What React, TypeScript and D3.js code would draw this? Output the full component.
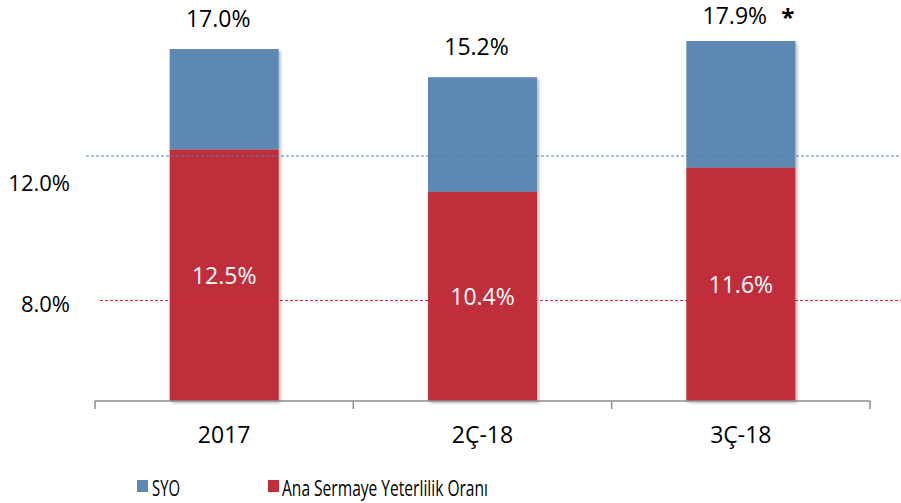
import React from "react";
import * as d3 from "d3";

// ---- data ----
const categories: string[] = ["2017", "2Ç-18", "3Ç-18"];
const anaSermaye: number[] = [12.5, 10.4, 11.6]; // red segment
const syoExtra: number[] = [5.0, 5.7, 6.3]; // blue segment (as drawn)
const totalLabels: string[] = ["17.0%", "15.2%", "17.9%"];
const innerLabels: string[] = ["12.5%", "10.4%", "11.6%"];
const starFlags: boolean[] = [false, false, true];
const refValues: number[] = [12, 8];
const refLabels: string[] = ["12.0%", "8.0%"];
const seriesNames: string[] = ["SYO", "Ana Sermaye Yeterlilik Oranı"];

const W = 901;
const H = 503;
const BLUE = "#5D88B3";
const RED = "#C12D3A";
const FONT = "'Open Sans', 'Noto Sans', sans-serif";

export default function App() {
  const x = d3
    .scaleBand<string>()
    .domain(categories)
    .range([95, 870])
    .paddingInner(0.578)
    .paddingOuter(0.289);
  const y = d3.scaleLinear().domain([0, 17.9]).range([401, 41]);
  // reference lines sit on their own (secondary) scale
  const yRef = d3.scaleLinear().domain([8, 12]).range([300.5, 156]);
  const yRefLabel = d3.scaleLinear().domain([8, 12]).range([303, 182]);

  const stacked = categories.map((c, i) => {
    const r0 = 0;
    const r1 = anaSermaye[i];
    const b1 = r1 + syoExtra[i];
    return { c, r0, r1, b1, i };
  });

  const bw = x.bandwidth();
  const tickXs = [95, ...categories.map((c) => (x(c) as number) + bw / 2 + x.step() / 2)];
  const topY = (v: number) => Math.max(y(v) - 31, 15);

  return (
    <div>
      <style>{`body{margin:0}`}</style>
      <svg width={W} height={H} style={{ display: "block", fontFamily: FONT }}>
        <defs>
          <filter id="shadow" x="-10%" y="-10%" width="130%" height="130%">
            <feDropShadow dx="2" dy="2" stdDeviation="1.8" floodColor="#000" floodOpacity="0.28" />
          </filter>
        </defs>
        <rect width={W} height={H} fill="#fff" />

        {/* bars */}
        {stacked.map((d) => (
          <g key={d.c} filter="url(#shadow)">
            <rect
              x={x(d.c)}
              y={y(d.b1)}
              width={bw}
              height={y(d.r1) - y(d.b1)}
              fill={BLUE}
            />
            <rect
              x={x(d.c)}
              y={y(d.r1)}
              width={bw}
              height={y(d.r0) - y(d.r1)}
              fill={RED}
            />
          </g>
        ))}

        {/* reference lines */}
        {refValues.map((v, i) => (
          <line
            key={v}
            x1={i === 0 ? 86 : 100}
            x2={W}
            y1={yRef(v)}
            y2={yRef(v)}
            stroke={i === 0 ? "#4F7FB0" : "#D8283A"}
            strokeWidth={1}
            strokeDasharray="3,2"
          />
        ))}
        {refValues.map((v, i) => (
          <text
            key={"l" + v}
            x={70}
            y={yRefLabel(v)}
            textAnchor="end"
            dominantBaseline="central"
            fontSize={22}
            fill="#000"
          >
            {refLabels[i]}
          </text>
        ))}

        {/* inner labels */}
        {stacked.map((d) => (
          <text
            key={"in" + d.c}
            x={(x(d.c) as number) + bw / 2}
            y={(y(d.r0) + y(d.r1)) / 2}
            textAnchor="middle"
            dominantBaseline="central"
            fontSize={23}
            fill="#fff"
          >
            {innerLabels[d.i]}
          </text>
        ))}

        {/* total labels */}
        {stacked.map((d) => (
          <text
            key={"tot" + d.c}
            x={(x(d.c) as number) + bw / 2 - 6}
            y={topY(d.b1)}
            textAnchor="middle"
            dominantBaseline="central"
            fontSize={23}
            fill="#000"
          >
            {totalLabels[d.i]}
          </text>
        ))}
        {stacked
          .filter((d) => starFlags[d.i])
          .map((d) => (
            <text
              key={"star" + d.c}
              x={(x(d.c) as number) + bw / 2 + 47}
              y={topY(d.b1) + 11}
              textAnchor="middle"
              fontSize={24}
              fontWeight="bold"
              fill="#000"
            >
              *
            </text>
          ))}

        {/* x axis */}
        <line x1={95} x2={870} y1={401} y2={401} stroke="#8C8C8C" strokeWidth={1.5} />
        {tickXs.map((tx, i) => (
          <line key={"t" + i} x1={tx} x2={tx} y1={401} y2={409} stroke="#8C8C8C" strokeWidth={1.5} />
        ))}
        {categories.map((c) => (
          <text
            key={"x" + c}
            x={(x(c) as number) + bw / 2}
            y={434}
            textAnchor="middle"
            dominantBaseline="central"
            fontSize={23}
            fill="#000"
          >
            {c}
          </text>
        ))}

        {/* legend */}
        <rect x={137} y={480} width={11} height={12} fill={BLUE} />
        <text
          x={152}
          y={487}
          dominantBaseline="central"
          fontSize={22}
          textLength={28}
          lengthAdjust="spacingAndGlyphs"
          fill="#000"
        >
          {seriesNames[0]}
        </text>
        <rect x={268} y={480} width={11} height={12} fill={RED} />
        <text
          x={282}
          y={487}
          dominantBaseline="central"
          fontSize={22}
          textLength={206}
          lengthAdjust="spacingAndGlyphs"
          fill="#000"
        >
          {seriesNames[1]}
        </text>
      </svg>
    </div>
  );
}
